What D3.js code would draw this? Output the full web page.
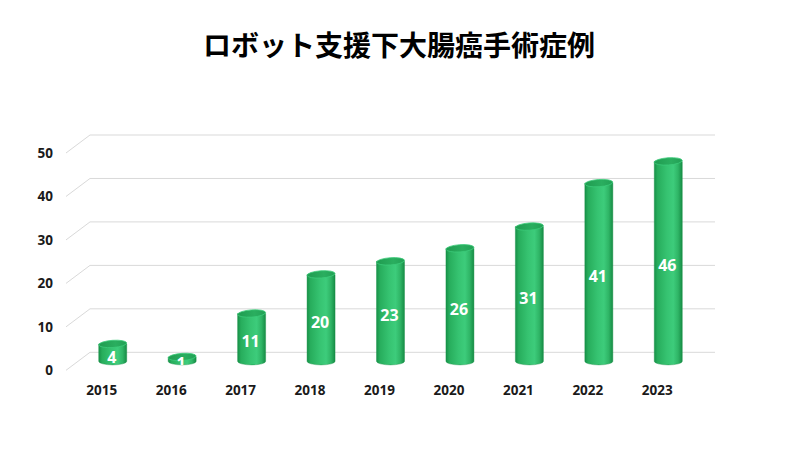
<!DOCTYPE html>
<html><head><meta charset="utf-8">
<script src="https://cdn.jsdelivr.net/npm/d3@7"></script>
<style>body{margin:0;background:#fff}svg{display:block}</style>
</head><body>
<script>
const categories = ["2015","2016","2017","2018","2019","2020","2021","2022","2023"];
const values = [4,1,11,20,23,26,31,41,46];
const yTicks = [0,10,20,30,40,50];
const title = "ロボット支援下大腸癌手術症例";

const W = 800, H = 450;
const svg = d3.select("body").append("svg").attr("width", W).attr("height", H);
const font = "'Open Sans','Noto Sans',sans-serif";

svg.append("text").attr("x", 399).attr("y", 56).attr("text-anchor","middle")
  .attr("font-family","'Noto Sans CJK JP',sans-serif").attr("font-weight",700)
  .attr("font-size",28).attr("fill","#000").text(title);

const x = d3.scaleBand().domain(categories).range([90, 715]).padding(0);
const y = d3.scaleLinear().domain([0, 50]).range([352.3, 135]);
const dx = -24, dy = 18; // depth offset back -> front

const grid = svg.append("g");
yTicks.forEach(t => {
  const yy = y(t);
  grid.append("path").attr("d", `M${90+dx},${yy+dy}L90,${yy}L715,${yy}`)
    .attr("fill","none").attr("stroke","#d9d9d9").attr("stroke-width",1);
  svg.append("text").attr("x", 53).attr("y", yy+dy+5).attr("text-anchor","end")
    .attr("font-family",font).attr("font-weight",700).attr("font-size",13.5)
    .attr("fill","#1a1a1a").text(t);
});

const defs = svg.append("defs");
const g = defs.append("linearGradient").attr("id","cyl").attr("x1","0").attr("x2","1").attr("y1","0").attr("y2","0");
[[0,"#179148"],[0.12,"#27ad5c"],[0.45,"#36c371"],[0.68,"#3dcc7b"],[0.85,"#2fb566"],[1,"#168c45"]]
  .forEach(([o,c]) => g.append("stop").attr("offset",o).attr("stop-color",c));
const gt = defs.append("linearGradient").attr("id","top").attr("x1","0").attr("x2","1");
[[0,"#1f9c50"],[0.6,"#2aae5f"],[1,"#22a055"]].forEach(([o,c]) => gt.append("stop").attr("offset",o).attr("stop-color",c));
defs.append("clipPath").attr("id","plotclip").append("rect").attr("x",0).attr("y",0).attr("width",W).attr("height",365);

const rx = 14, ry = 3.6, rot = -4;
const bars = svg.append("g");
categories.forEach((c, i) => {
  const v = values[i];
  const cx = x(c) + x.bandwidth()/2 + dx/2;
  const yb = y(0) + dy/2, yt = y(v) + dy/2;
  const gg = bars.append("g");
  gg.append("path")
    .attr("d", `M${cx-rx},${yt} L${cx-rx},${yb} A${rx},${ry} 0 0 0 ${cx+rx},${yb} L${cx+rx},${yt} Z`)
    .attr("fill","url(#cyl)").attr("stroke","#169046").attr("stroke-width",0.6).attr("stroke-opacity",0.7);
  gg.append("ellipse").attr("cx",cx).attr("cy",yt).attr("rx",rx).attr("ry",ry)
    .attr("transform",`rotate(${rot},${cx},${yt})`)
    .attr("fill","url(#top)").attr("stroke","#3ccb79").attr("stroke-width",0.8);
  const ly = v < 3 ? yb + 8 : (yt+yb)/2 + 10;
  svg.append("text").attr("clip-path","url(#plotclip)")
    .attr("x", cx - 1).attr("y", ly).attr("text-anchor","middle")
    .attr("font-family",font).attr("font-weight",700).attr("font-size",16)
    .attr("fill","#fff").text(v);
  svg.append("text").attr("x", x(c) + x.bandwidth()/2 + dx + 1).attr("y", 395)
    .attr("text-anchor","middle").attr("font-family",font).attr("font-weight",700)
    .attr("font-size",13.5).attr("fill","#1a1a1a").text(c);
});
</script>
</body></html>
